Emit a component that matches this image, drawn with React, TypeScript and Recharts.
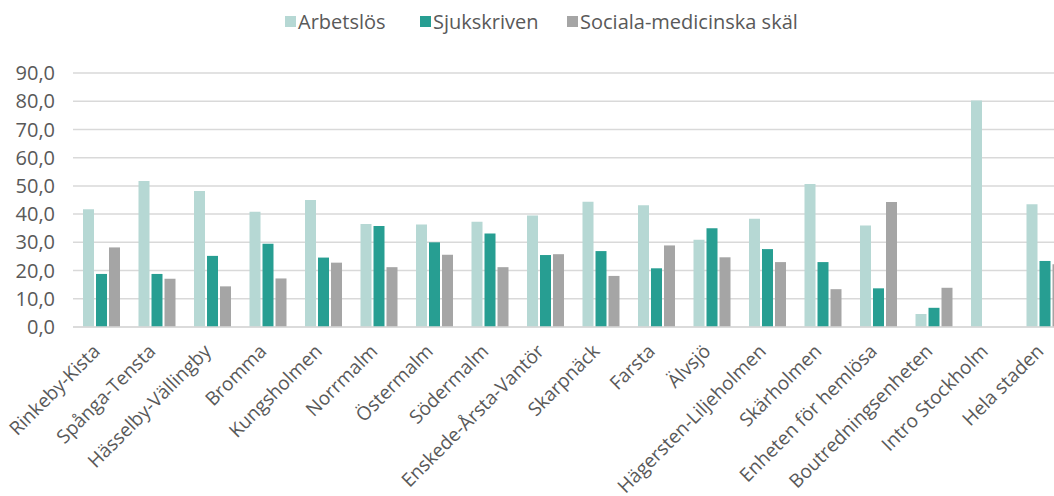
import React from 'react'
import { BarChart, Bar, XAxis, YAxis, CartesianGrid, Legend } from 'recharts'

const categories = [
  'Rinkeby-Kista', 'Spånga-Tensta', 'Hässelby-Vällingby', 'Bromma', 'Kungsholmen',
  'Norrmalm', 'Östermalm', 'Södermalm', 'Enskede-Årsta-Vantör', 'Skarpnäck',
  'Farsta', 'Älvsjö', 'Hägersten-Liljeholmen', 'Skärholmen', 'Enheten för hemlösa',
  'Boutredningsenheten', 'Intro Stockholm', 'Hela staden',
]
const arbetslos = [41.7, 51.7, 48.2, 40.8, 45.0, 36.5, 36.3, 37.3, 39.5, 44.4, 43.1, 30.9, 38.4, 50.7, 36.0, 4.6, 80.3, 43.5]
const sjukskriven = [18.8, 18.8, 25.2, 29.5, 24.6, 35.8, 30.0, 33.1, 25.5, 26.9, 20.8, 35.0, 27.6, 23.0, 13.7, 6.8, 0, 23.4]
const sociala = [28.2, 17.1, 14.4, 17.2, 22.8, 21.2, 25.6, 21.2, 25.8, 18.1, 28.9, 24.7, 23.0, 13.4, 44.3, 13.9, 0, 22.2]
const yTicks = [0, 10, 20, 30, 40, 50, 60, 70, 80, 90]

const series = [
  { key: 'arbetslos', name: 'Arbetslös', color: '#B6D8D4', left: 285 },
  { key: 'sjukskriven', name: 'Sjukskriven', color: '#279E92', left: 420 },
  { key: 'sociala', name: 'Sociala-medicinska skäl', color: '#A5A5A5', left: 567 },
]

const data = categories.map((name, i) => ({
  name,
  arbetslos: arbetslos[i],
  sjukskriven: sjukskriven[i],
  sociala: sociala[i],
}))

const FONT = '"Open Sans", sans-serif'
const TEXT = '#595959'
const FS = 20

// rotated category labels, anchored at their end
const XTick = ({ x, y, payload }: any) => (
  <g transform={`translate(${x - 8},${y + 9})`}>
    <text x={0} y={0} dy={12} textAnchor="end" transform="rotate(-45)" fill={TEXT} fontSize={19} fontFamily={FONT}>
      {payload.value}
    </text>
  </g>
)

const LegendContent = () => (
  <div style={{ position: 'relative', height: 40, fontFamily: FONT, fontSize: FS, color: TEXT }}>
    {series.map(s => (
      <div key={s.key} style={{ position: 'absolute', left: s.left, top: 0, display: 'flex', alignItems: 'center', whiteSpace: 'nowrap' }}>
        <span style={{ width: 11, height: 11, background: s.color, display: 'inline-block', marginRight: 2 }} />
        <span>{s.name}</span>
      </div>
    ))}
  </div>
)

export default function App() {
  return (
    <div style={{ position: 'absolute', left: 0, top: 0, width: 1054, height: 496, overflow: 'hidden', background: '#fff' }}>
      <BarChart
        width={1072}
        height={496}
        data={data}
        margin={{ top: 8, right: 0, left: 0, bottom: 0 }}
        barCategoryGap={10}
        barGap={2}
      >
        <Legend verticalAlign="top" align="left" height={65} content={<LegendContent />} />
        <CartesianGrid vertical={false} stroke="#D9D9D9" strokeWidth={1.5} />
        <XAxis
          dataKey="name"
          interval={0}
          height={169}
          tick={<XTick />}
          tickLine={false}
          axisLine={{ stroke: '#D9D9D9', strokeWidth: 1.5 }}
        />
        <YAxis
          width={73}
          domain={[0, 90]}
          ticks={yTicks}
          tickFormatter={(v: number) => v.toFixed(1).replace('.', ',')}
          tick={{ fill: TEXT, fontSize: FS, fontFamily: FONT }}
          tickLine={false}
          axisLine={false}
          tickMargin={12}
        />
        {series.map(s => (
          <Bar key={s.key} dataKey={s.key} name={s.name} fill={s.color} isAnimationActive={false} />
        ))}
      </BarChart>
    </div>
  )
}
